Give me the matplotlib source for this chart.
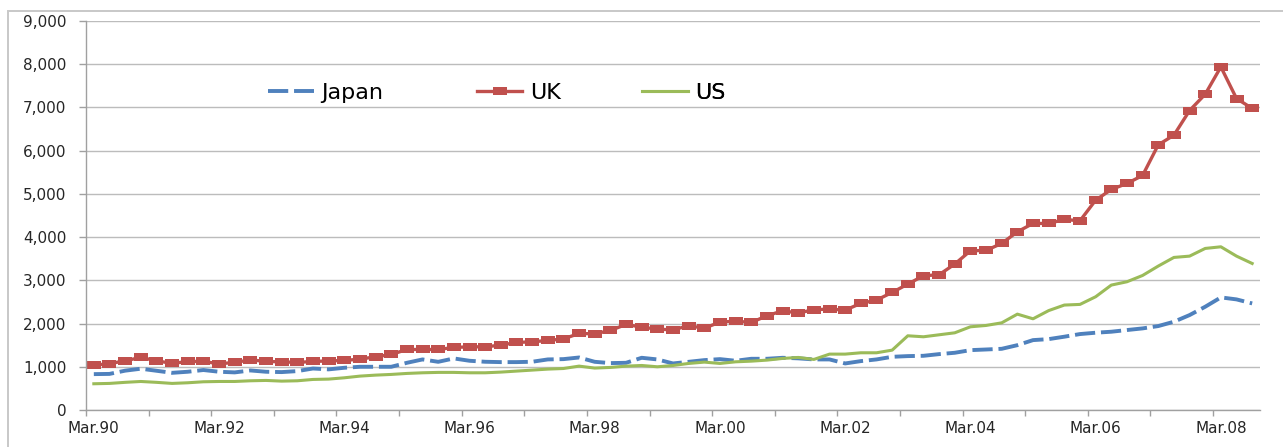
# -*- coding:utf-8 -*-
import numpy as np
import matplotlib
matplotlib.use('Agg')
import matplotlib.pyplot as plt
from matplotlib.patches import Rectangle
from matplotlib.ticker import FixedLocator, FuncFormatter

plt.rcParams['font.family'] = ['DejaVu Sans']

# quarterly categories Mar.90 .. Sep.08
months = ['Mar', 'Jun', 'Sep', 'Dec']
years = list(range(90, 100)) + list(range(0, 9))
quarters = ['%s.%02d' % (m, y) for y in years for m in months][:75]

japan = [830, 835, 910, 955, 908, 860, 885, 925, 885, 870,
         915, 885, 877, 900, 960, 940, 977, 1000, 1000, 1000,
         1092, 1170, 1115, 1193, 1139, 1116, 1108, 1108, 1116, 1170,
         1177, 1215, 1115, 1085, 1092, 1208, 1170, 1077, 1115, 1154,
         1177, 1139, 1185, 1185, 1208, 1195, 1170, 1170, 1077, 1131,
         1170, 1231, 1247, 1254, 1293, 1324, 1385, 1400, 1416, 1500,
         1617, 1640, 1696, 1757, 1788, 1811, 1850, 1888, 1942, 2042,
         2196, 2389, 2605, 2559, 2466]

uk = [1040, 1070, 1140, 1215, 1140, 1077, 1123, 1123, 1070, 1100,
      1160, 1123, 1115, 1100, 1123, 1135, 1146, 1177, 1231, 1285,
      1400, 1400, 1400, 1447, 1462, 1462, 1500, 1563, 1578, 1608,
      1645, 1770, 1763, 1840, 1980, 1917, 1870, 1855, 1948, 1894,
      2033, 2056, 2025, 2180, 2295, 2245, 2320, 2335, 2312, 2466,
      2543, 2720, 2913, 3106, 3130, 3376, 3684, 3692, 3854, 4123,
      4316, 4316, 4408, 4378, 4855, 5102, 5241, 5426, 6135, 6358,
      6928, 7306, 7938, 7206, 6977]

us = [607, 615, 640, 660, 640, 615, 630, 653, 660, 660,
      676, 684, 668, 676, 707, 715, 745, 784, 807, 823,
      846, 861, 870, 870, 861, 861, 877, 900, 923, 946,
      960, 1015, 970, 985, 1015, 1030, 1000, 1030, 1077, 1108,
      1077, 1115, 1130, 1154, 1193, 1216, 1170, 1293, 1293, 1324,
      1324, 1385, 1717, 1694, 1740, 1786, 1925, 1956, 2017, 2218,
      2110, 2300, 2428, 2443, 2620, 2890, 2967, 3113, 3330, 3530,
      3560, 3738, 3776, 3560, 3390]

W, H = 1283, 447
fig = plt.figure(figsize=(W / 100, H / 100), dpi=100)
ax = fig.add_axes([86 / W, 1 - 410 / H, 1174 / W, 389 / H])

# chart area border (cut off at right / bottom)
fig.add_artist(Rectangle((8 / W, -0.2), 1.2, 1.2 - 11 / H, transform=fig.transFigure,
                         fill=False, edgecolor='#c8c8c8', lw=1.4))

x = np.arange(len(quarters))
rect = [(-1, -0.6), (1, -0.6), (1, 0.6), (-1, 0.6), (-1, -0.6)]

l_jp, = ax.plot(x, japan, color='#4F81BD', lw=2.8, ls=(0, (5.2, 1.5)),
                dash_capstyle='butt', label='Japan')
l_uk, = ax.plot(x, uk, color='#C0504D', lw=2.4, marker=rect, markersize=9.8,
                markeredgewidth=0, label='UK')
l_us, = ax.plot(x, us, color='#9BBB59', lw=2.2, label='US')

ax.set_xlim(-0.5, len(quarters) - 0.5)
ax.set_ylim(0, 9000)
ax.set_yticks(np.arange(0, 9001, 1000))
ax.yaxis.set_major_formatter(FuncFormatter(lambda v, p: '{:,.0f}'.format(v)))
ax.grid(axis='y', color='#bcbcbc', lw=1.0)
ax.set_axisbelow(True)

# labels every 2 years, tick marks every year
ax.xaxis.set_major_locator(FixedLocator(x[::8]))
ax.set_xticklabels(quarters[::8])
ax.xaxis.set_minor_locator(FixedLocator(np.arange(-0.5, len(quarters), 4)))
ax.tick_params(axis='x', which='major', length=0, pad=8, labelsize=11, labelcolor='#262626')
ax.tick_params(axis='x', which='minor', length=4, width=1, color='#a0a0a0', direction='out')
ax.tick_params(axis='y', length=5, width=1, color='#a0a0a0', pad=9, labelsize=11,
               labelcolor='#262626')

for s in ['top', 'right']:
    ax.spines[s].set_visible(False)
for s in ['left', 'bottom']:
    ax.spines[s].set_color('#a0a0a0')
    ax.spines[s].set_linewidth(1)

# legend entries placed one by one
for line, xpos in [(l_jp, 0.155), (l_uk, 0.333), (l_us, 0.4736)]:
    leg = ax.legend([line], [line.get_label()], loc='center left', bbox_to_anchor=(xpos, 0.815),
                    frameon=False, fontsize=16, handlelength=2.05, handletextpad=0.36,
                    borderpad=0, borderaxespad=0, numpoints=1)
    ax.add_artist(leg)

plt.savefig('out.png', dpi=100)
